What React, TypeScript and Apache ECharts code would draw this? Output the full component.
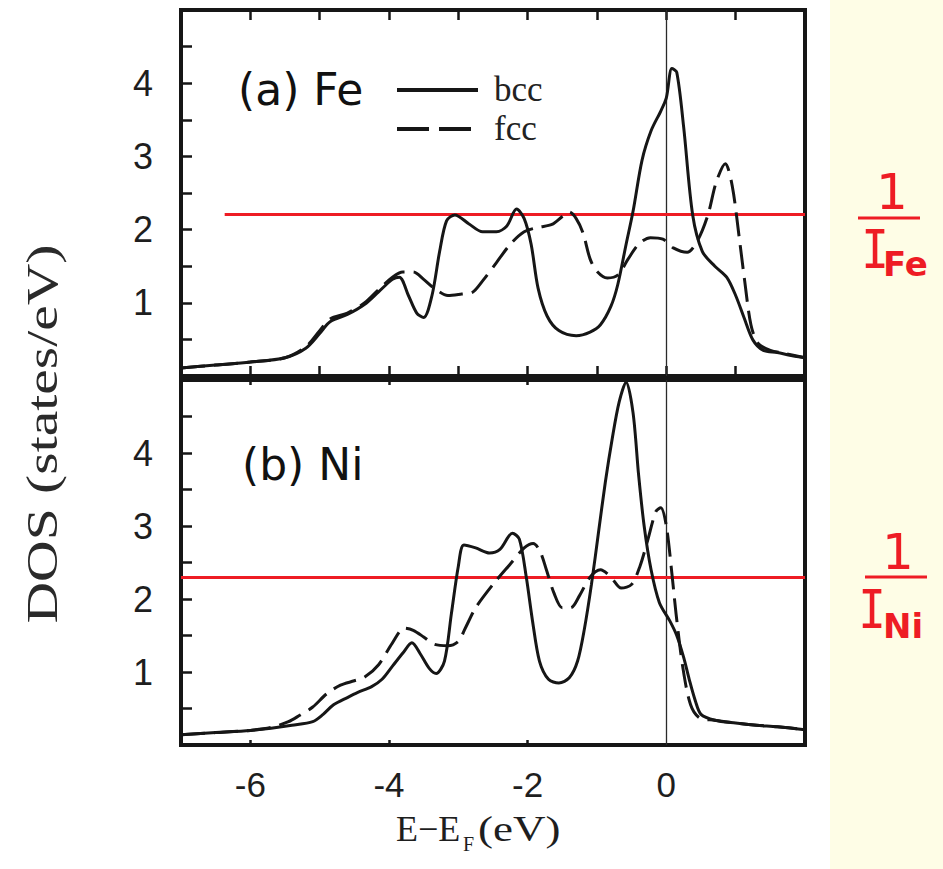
import React, { useEffect, useRef } from 'react';
import * as echarts from 'echarts';

// ---------- data ----------
const xLabelValues = [-6, -4, -2, 0];
const xTopPanelTicks = [-6, -5, -4, -3, -2, -1, 0, 1];
const xBottomPanelTicks = [-6, -4, -2];
const yLabelValues = [1, 2, 3, 4];
const seriesNames = ['bcc', 'fcc'];
const panelLabels = ['(a) Fe', '(b) Ni'];

const feBcc: [number, number][] = [
  [-7.0, 0.11], [-6.5, 0.15], [-6.0, 0.19], [-5.5, 0.25], [-5.2, 0.38], [-5.0, 0.58],
  [-4.85, 0.74], [-4.6, 0.84], [-4.35, 0.98], [-4.15, 1.15], [-3.95, 1.32], [-3.85, 1.35],
  [-3.72, 1.1], [-3.6, 0.86], [-3.5, 0.8], [-3.38, 1.1], [-3.27, 1.7], [-3.17, 2.12],
  [-3.05, 2.2], [-2.85, 2.08], [-2.65, 1.97], [-2.45, 1.97], [-2.3, 2.05], [-2.16, 2.28],
  [-2.05, 2.15], [-1.95, 1.8], [-1.85, 1.2], [-1.72, 0.82], [-1.55, 0.62], [-1.3, 0.55],
  [-1.1, 0.6], [-0.95, 0.7], [-0.8, 0.95], [-0.7, 1.25], [-0.58, 1.8], [-0.48, 2.25],
  [-0.35, 2.95], [-0.22, 3.35], [-0.08, 3.62], [0.0, 3.8], [0.08, 4.2], [0.15, 4.15],
  [0.25, 3.4], [0.38, 2.2], [0.52, 1.7], [0.7, 1.5], [0.87, 1.35], [1.0, 1.1],
  [1.12, 0.8], [1.25, 0.49], [1.4, 0.35], [1.6, 0.32], [1.8, 0.28], [2.0, 0.25],
];

const feFcc: [number, number][] = [
  [-7.0, 0.11], [-6.5, 0.15], [-6.0, 0.19], [-5.5, 0.25], [-5.2, 0.4], [-5.0, 0.62],
  [-4.85, 0.78], [-4.6, 0.86], [-4.35, 1.0], [-4.15, 1.18], [-3.95, 1.35], [-3.8, 1.42],
  [-3.65, 1.42], [-3.5, 1.32], [-3.35, 1.2], [-3.15, 1.1], [-2.95, 1.12], [-2.8, 1.14],
  [-2.65, 1.3], [-2.45, 1.55], [-2.25, 1.8], [-2.05, 1.97], [-1.85, 2.03], [-1.65, 2.07],
  [-1.5, 2.18], [-1.4, 2.24], [-1.3, 2.15], [-1.2, 1.95], [-1.1, 1.6], [-1.0, 1.43],
  [-0.85, 1.34], [-0.7, 1.38], [-0.55, 1.6], [-0.4, 1.8], [-0.23, 1.89], [-0.05, 1.87],
  [0.1, 1.75], [0.3, 1.69], [0.45, 1.85], [0.6, 2.2], [0.72, 2.65], [0.85, 2.9],
  [0.95, 2.6], [1.05, 1.9], [1.13, 1.3], [1.22, 0.7], [1.32, 0.45], [1.5, 0.35],
  [1.7, 0.31], [2.0, 0.25],
];

const niBcc: [number, number][] = [
  [-7.0, 0.14], [-6.5, 0.17], [-6.0, 0.2], [-5.7, 0.23], [-5.4, 0.27], [-5.1, 0.32],
  [-4.95, 0.42], [-4.8, 0.55], [-4.6, 0.65], [-4.45, 0.72], [-4.25, 0.8], [-4.1, 0.9],
  [-3.95, 1.08], [-3.8, 1.26], [-3.67, 1.4], [-3.55, 1.25], [-3.42, 1.05], [-3.32, 0.98],
  [-3.2, 1.15], [-3.1, 1.8], [-3.0, 2.45], [-2.92, 2.74], [-2.75, 2.7], [-2.55, 2.63],
  [-2.4, 2.68], [-2.22, 2.9], [-2.12, 2.82], [-2.02, 2.3], [-1.93, 1.7], [-1.83, 1.15],
  [-1.7, 0.9], [-1.55, 0.85], [-1.4, 0.92], [-1.28, 1.15], [-1.18, 1.6], [-1.08, 2.2],
  [-0.98, 2.9], [-0.88, 3.6], [-0.78, 4.2], [-0.68, 4.7], [-0.58, 4.97], [-0.48, 4.55],
  [-0.4, 3.7], [-0.32, 3.0], [-0.22, 2.4], [-0.1, 1.95], [0.05, 1.7], [0.15, 1.5],
  [0.25, 1.2], [0.33, 0.9], [0.42, 0.6], [0.5, 0.42], [0.7, 0.34], [1.0, 0.3],
  [1.3, 0.27], [1.6, 0.25], [2.0, 0.21],
];

const niFcc: [number, number][] = [
  [-7.0, 0.14], [-6.5, 0.17], [-6.0, 0.2], [-5.7, 0.24], [-5.45, 0.32], [-5.3, 0.4],
  [-5.1, 0.52], [-4.9, 0.7], [-4.7, 0.82], [-4.5, 0.88], [-4.35, 0.93], [-4.15, 1.1],
  [-3.95, 1.4], [-3.78, 1.6], [-3.65, 1.57], [-3.5, 1.48], [-3.35, 1.38], [-3.15, 1.36],
  [-3.0, 1.42], [-2.9, 1.6], [-2.75, 1.88], [-2.5, 2.2], [-2.25, 2.48], [-2.05, 2.7],
  [-1.92, 2.76], [-1.82, 2.65], [-1.73, 2.4], [-1.62, 2.08], [-1.5, 1.88], [-1.38, 1.88],
  [-1.25, 2.05], [-1.1, 2.3], [-0.95, 2.4], [-0.8, 2.3], [-0.65, 2.15], [-0.5, 2.2],
  [-0.38, 2.45], [-0.27, 2.8], [-0.15, 3.2], [-0.08, 3.25], [0.0, 3.0], [0.08, 2.35],
  [0.14, 1.8], [0.24, 1.05], [0.35, 0.55], [0.48, 0.37], [0.7, 0.34], [1.0, 0.3],
  [1.3, 0.27], [1.6, 0.25], [2.0, 0.21],
];

const fermiLevel = 0;
const feStonerLevel = 2.21; // 1 / I_Fe
const feStonerStart = -6.37;
const niStonerLevel = 2.3; // 1 / I_Ni
const xMin = -7;
const xMax = 2;
const yMin = 0;
const yMax = 5;

// ---------- styling ----------
const INK = '#161616';
const RED = '#ee1c24';
const SANS = 'Liberation Sans';
const SERIF = 'Liberation Serif';

export default function App() {
  const ref = useRef<HTMLDivElement>(null);

  useEffect(() => {
    if (!ref.current) return;
    const chart = echarts.init(ref.current, null, { renderer: 'svg' });

    const grids = [
      { left: 181, top: 10, width: 624, height: 366 },
      { left: 181, top: 380, width: 624, height: 365 },
    ];

    const xAxisBase = (gridIndex: number, position: string, ticks: number[], len: number, labels: boolean) => ({
      type: 'value',
      gridIndex,
      position,
      min: xMin,
      max: xMax,
      interval: 1,
      axisLine: { show: false, onZero: false },
      splitLine: { show: false },
      axisTick: {
        show: true,
        inside: true,
        length: len,
        customValues: ticks,
        lineStyle: { color: INK, width: 2.5 },
      },
      axisLabel: labels
        ? {
            show: true,
            customValues: xLabelValues,
            margin: 22,
            color: '#1e1e1e',
            fontFamily: SANS,
            fontSize: 35,
          }
        : { show: false },
    });

    const yAxisBase = (gridIndex: number) => ({
      type: 'value',
      gridIndex,
      position: 'left',
      min: yMin,
      max: yMax,
      interval: 0.5,
      axisLine: { show: false, onZero: false },
      splitLine: { show: false },
      axisTick: { show: true, inside: true, length: 11, lineStyle: { color: INK, width: 2.5 } },
      axisLabel: {
        show: true,
        customValues: yLabelValues,
        margin: 28,
        color: '#1e1e1e',
        fontFamily: SANS,
        fontSize: 36,
      },
    });

    const fermiLine = { xAxis: fermiLevel, lineStyle: { color: '#2a2a2a', width: 1.3, type: 'solid' } };

    const mkSeries = (
      name: string,
      data: [number, number][],
      xi: number,
      yi: number,
      dashed: boolean,
      markData: any[] | null,
    ) => ({
      name,
      type: 'line',
      xAxisIndex: xi,
      yAxisIndex: yi,
      data,
      showSymbol: false,
      symbol: 'none',
      smooth: 0.3,
      lineStyle: { color: INK, width: 3, type: dashed ? [24, 9] : 'solid' },
      z: 3,
      markLine: markData
        ? {
            silent: true,
            symbol: ['none', 'none'],
            label: { show: false },
            data: markData,
            z: 2,
          }
        : undefined,
    });

    const option: any = {
      animation: false,
      backgroundColor: '#ffffff',
      grid: grids.map((g) => ({
        ...g,
        show: true,
        borderColor: INK,
        borderWidth: 4,
        backgroundColor: 'transparent',
      })),
      xAxis: [
        xAxisBase(0, 'bottom', xTopPanelTicks, 10, false),
        xAxisBase(0, 'top', xTopPanelTicks, 10, false),
        xAxisBase(1, 'bottom', xBottomPanelTicks, 5, true),
        xAxisBase(1, 'top', xBottomPanelTicks, 5, false),
      ],
      yAxis: [yAxisBase(0), yAxisBase(1)],
      series: [
        mkSeries(seriesNames[0], feBcc, 0, 0, false, [
          fermiLine,
          [
            { coord: [feStonerStart, feStonerLevel], lineStyle: { color: RED, width: 3, type: 'solid' } },
            { coord: [xMax, feStonerLevel] },
          ],
        ]),
        mkSeries(seriesNames[1], feFcc, 0, 0, true, null),
        mkSeries(seriesNames[0], niBcc, 2, 1, false, [
          fermiLine,
          { yAxis: niStonerLevel, lineStyle: { color: RED, width: 3, type: 'solid' } },
        ]),
        mkSeries(seriesNames[1], niFcc, 2, 1, true, null),
      ],
      graphic: [
        // pale yellow strip on the right
        { type: 'rect', shape: { x: 830, y: 0, width: 113, height: 869 }, style: { fill: '#fefde6' }, z: -1 },
        // panel labels
        {
          type: 'text', x: 238, y: 89,
          style: { text: panelLabels[0], font: '44px "DejaVu Sans"', fill: '#111', textVerticalAlign: 'middle' },
        },
        {
          type: 'text', x: 242, y: 464,
          style: { text: panelLabels[1], font: '44px "DejaVu Sans"', fill: '#111', textVerticalAlign: 'middle' },
        },
        // legend
        { type: 'line', shape: { x1: 397, y1: 90, x2: 478, y2: 90 }, style: { stroke: INK, lineWidth: 4 } },
        {
          type: 'text', x: 494, y: 89,
          style: { text: seriesNames[0], font: `35px "${SERIF}"`, fill: '#222', textVerticalAlign: 'middle' },
        },
        {
          type: 'line', shape: { x1: 397, y1: 129, x2: 472, y2: 129 },
          style: { stroke: INK, lineWidth: 4, lineDash: [32, 10] },
        },
        {
          type: 'text', x: 494, y: 128,
          style: { text: seriesNames[1], font: `35px "${SERIF}"`, fill: '#222', textVerticalAlign: 'middle' },
        },
        // y axis title
        {
          type: 'text', x: 42, y: 434, rotation: Math.PI / 2, scaleX: 1.28,
          style: {
            text: 'DOS (states/eV)', font: `45px "${SERIF}"`, fill: '#2a2a2a',
            textAlign: 'center', textVerticalAlign: 'middle',
          },
        },
        // x axis title  E−E_F (eV)
        {
          type: 'text', x: 396, y: 829,
          style: { text: 'E−E', font: `36px "${SERIF}"`, fill: '#1e1e1e', textVerticalAlign: 'middle' },
        },
        {
          type: 'text', x: 463, y: 844,
          style: { text: 'F', font: `20px "${SERIF}"`, fill: '#1e1e1e', textVerticalAlign: 'middle' },
        },
        {
          type: 'text', x: 478, y: 829, scaleX: 1.25,
          style: { text: '(eV)', font: `36px "${SERIF}"`, fill: '#1e1e1e', textVerticalAlign: 'middle' },
        },
        // 1 / I_Fe
        {
          type: 'text', x: 892, y: 192,
          style: { text: '1', font: '50px "DejaVu Sans"', fill: RED, textAlign: 'center', textVerticalAlign: 'middle' },
        },
        { type: 'line', shape: { x1: 858, y1: 218, x2: 920, y2: 218 }, style: { stroke: RED, lineWidth: 3 } },
        {
          type: 'text', x: 875, y: 249, scaleX: 0.85,
          style: { text: 'I', font: '54px "DejaVu Sans Mono"', fill: RED, textAlign: 'center', textVerticalAlign: 'middle' },
        },
        {
          type: 'text', x: 883, y: 264,
          style: { text: 'Fe', font: 'bold 34px "DejaVu Sans"', fill: RED, textVerticalAlign: 'middle' },
        },
        // 1 / I_Ni
        {
          type: 'text', x: 898, y: 552,
          style: { text: '1', font: '50px "DejaVu Sans"', fill: RED, textAlign: 'center', textVerticalAlign: 'middle' },
        },
        { type: 'line', shape: { x1: 865, y1: 577, x2: 927, y2: 577 }, style: { stroke: RED, lineWidth: 3 } },
        {
          type: 'text', x: 872, y: 609, scaleX: 0.85,
          style: { text: 'I', font: '54px "DejaVu Sans Mono"', fill: RED, textAlign: 'center', textVerticalAlign: 'middle' },
        },
        {
          type: 'text', x: 883, y: 626,
          style: { text: 'Ni', font: 'bold 34px "DejaVu Sans"', fill: RED, textVerticalAlign: 'middle' },
        },
      ],
    };

    chart.setOption(option);
    return () => chart.dispose();
  }, []);

  return (
    <div
      ref={ref}
      style={{ position: 'fixed', left: 0, top: 0, width: 943, height: 869, background: '#ffffff' }}
    />
  );
}
